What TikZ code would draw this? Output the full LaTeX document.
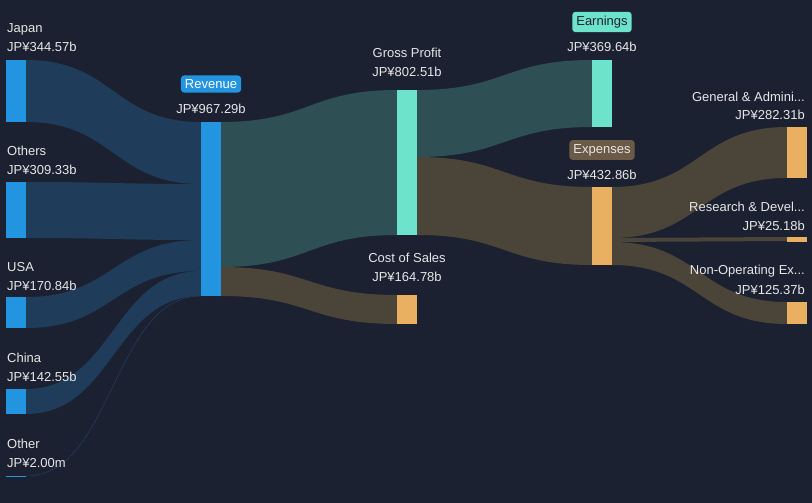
\documentclass[tikz,border=0pt]{standalone}
\usepackage{fontspec}
\setmainfont{Liberation Sans}
\begin{document}
\definecolor{bg}{HTML}{1B2130}
\definecolor{blu}{HTML}{2394E0}
\definecolor{mint}{HTML}{6DE3CB}
\definecolor{org}{HTML}{E8B060}
\definecolor{fblue}{HTML}{1F3D5A}
\definecolor{fteal}{HTML}{2E5055}
\definecolor{fbrown}{HTML}{4B4539}
\definecolor{txt}{HTML}{E6E6E6}
\definecolor{expb}{HTML}{6B5A45}
\newcommand\sflow[7]{\fill[#7] (#1,#2) .. controls ({(#1+#4)/2},#2) and ({(#1+#4)/2},#5) .. (#4,#5) -- (#4,#6) .. controls ({(#1+#4)/2},#6) and ({(#1+#4)/2},#3) .. (#1,#3) -- cycle;}
\begin{tikzpicture}[x=1pt,y=-1pt,
  lab/.style={text=txt,font=\fontsize{13}{15}\selectfont,inner sep=1pt},
  bar/.style={minimum width=20pt,inner sep=0pt,draw=none}]
\useasboundingbox[fill=bg] (0,0) rectangle (812,503);
% flows
\sflow{26}{60}{122}{201}{122}{184}{fblue}
\sflow{26}{182}{238}{201}{184}{240}{fblue}
\sflow{26}{297}{328}{201}{240}{271}{fblue}
\sflow{26}{389}{414}{201}{271}{296}{fblue}
\draw[fblue,line width=0.6pt] (26,476) .. controls (113,476) and (113,296) .. (201,296);
\sflow{221}{122}{267}{397}{90}{235}{fteal}
\sflow{221}{267}{296}{397}{295}{324}{fbrown}
\sflow{417}{90}{157}{592}{60}{127}{fteal}
\sflow{417}{157}{235}{592}{187}{265}{fbrown}
\sflow{612}{187}{238}{787}{127}{178}{fbrown}
\sflow{612}{238}{242}{787}{237}{241}{fbrown}
\sflow{612}{242}{265}{787}{302}{324}{fbrown}
% bars
\fill[blu] (6,60) rectangle (26,122);
\fill[blu] (6,182) rectangle (26,238);
\fill[blu] (6,297) rectangle (26,328);
\fill[blu] (6,389) rectangle (26,414);
\fill[blu] (6,475.5) rectangle (26,476.5);
\fill[blu] (201,122) rectangle (221,296);
\fill[mint] (397,90) rectangle (417,235);
\fill[org] (397,295) rectangle (417,324);
\fill[mint] (592,60) rectangle (612,127);
\fill[org] (592,187) rectangle (612,265);
\fill[org] (787,127) rectangle (807,178);
\fill[org] (787,237) rectangle (807,242);
\fill[org] (787,302) rectangle (807,324);
% labels
\node[lab,anchor=west] (jp) at (6,29) {Japan};
\node[lab,anchor=west] (jpv) at (6,47) {JP¥344.57b};
\node[lab,anchor=west] (ot) at (6,151) {Others};
\node[lab,anchor=west] (otv) at (6,170) {JP¥309.33b};
\node[lab,anchor=west] (us) at (6,267) {USA};
\node[lab,anchor=west] (usv) at (6,286) {JP¥170.84b};
\node[lab,anchor=west] (cn) at (6,358) {China};
\node[lab,anchor=west] (cnv) at (6,377) {JP¥142.55b};
\node[lab,anchor=west] (oo) at (6,444) {Other};
\node[lab,anchor=west] (oov) at (6,463) {JP¥2.00m};
\node[lab,fill=blu,text=white,rounded corners=3pt,inner sep=4pt] (rev) at (211,84) {Revenue};
\node[lab] (revv) at (211,109) {JP¥967.29b};
\node[lab] (gp) at (407,53) {Gross Profit};
\node[lab] (gpv) at (407,72) {JP¥802.51b};
\node[lab] (cs) at (407,258) {Cost of Sales};
\node[lab] (csv) at (407,277) {JP¥164.78b};
\node[lab,fill=mint,text=bg,rounded corners=3pt,inner sep=4pt] (ea) at (602,22) {Earnings};
\node[lab] (eav) at (602,47) {JP¥369.64b};
\node[lab,fill=expb,text=txt,rounded corners=3pt,inner sep=4pt] (ex) at (602,150) {Expenses};
\node[lab] (exv) at (602,175) {JP¥432.86b};
\node[lab,anchor=east] (ga) at (806,97) {General \& Admini...};
\node[lab,anchor=east] (gav) at (806,115) {JP¥282.31b};
\node[lab,anchor=east] (rd) at (806,207) {Research \& Devel...};
\node[lab,anchor=east] (rdv) at (806,226) {JP¥25.18b};
\node[lab,anchor=east] (no) at (806,271) {Non-Operating Ex...};
\node[lab,anchor=east] (nov) at (806,290) {JP¥125.37b};
\end{tikzpicture}
\end{document}
